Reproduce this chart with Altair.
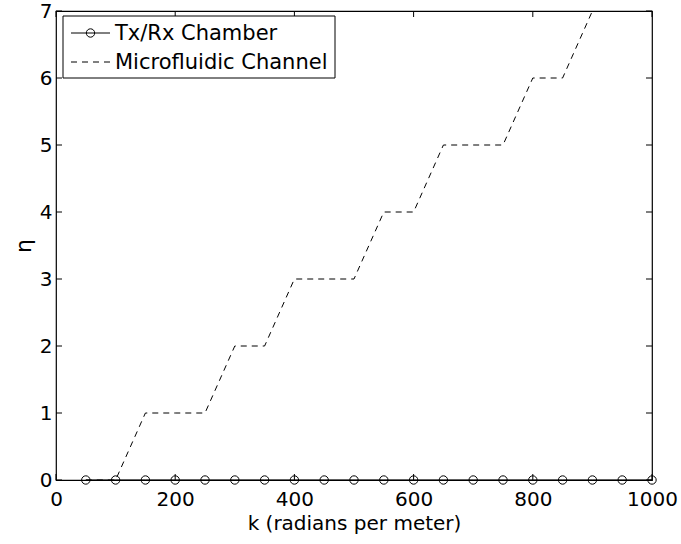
import altair as alt
import pandas as pd

# ---- data ----
k_values = [50, 100, 150, 200, 250, 300, 350, 400, 450, 500, 550, 600, 650, 700,
            750, 800, 850, 900, 950, 1000]
txrx_eta = [0] * 20
micro_eta = [0, 0, 1, 1, 1, 2, 2, 3, 3, 3, 4, 4, 5, 5, 5, 6, 6, 7, 8, 8]
x_ticks = [0, 200, 400, 600, 800, 1000]
y_ticks = [0, 1, 2, 3, 4, 5, 6, 7]
series_names = ["Tx/Rx Chamber", "Microfluidic Channel"]

W, H = 596, 469
FONT = "DejaVu Sans"

txrx = pd.DataFrame({"k": k_values, "eta": txrx_eta})
micro = pd.DataFrame({"k": k_values, "eta": micro_eta})
xt = pd.DataFrame({"k": x_ticks})
yt = pd.DataFrame({"eta": y_ticks})
one = pd.DataFrame({"a": [0]})

xscale = alt.Scale(domain=[0, 1000], nice=False, zero=False)
yscale = alt.Scale(domain=[0, 7], nice=False, zero=False)

xaxis = alt.Axis(values=x_ticks, format="d", title="k (radians per meter)", labelFontSize=20,
                 titleFontSize=20, labelFont=FONT, titleFont=FONT, labelPadding=9,
                 titlePadding=4, titleFontWeight="normal", ticks=False, domain=False,
                 grid=False, labelColor="black", titleColor="black", labelFlush=False)
yaxis = alt.Axis(values=y_ticks, format="d", title="η", labelFontSize=20, titleFontSize=22,
                 labelFont=FONT, titleFont=FONT, labelPadding=4, titlePadding=4,
                 titleFontWeight="normal", ticks=False, domain=False, grid=False,
                 labelColor="black", titleColor="black", labelFlush=False)

micro_line = alt.Chart(micro).mark_line(color="black", strokeWidth=1, strokeDash=[6, 5],
                                        clip=True).encode(
    x=alt.X("k:Q", scale=xscale, axis=xaxis),
    y=alt.Y("eta:Q", scale=yscale, axis=yaxis),
)
txrx_line = alt.Chart(txrx).mark_line(color="black", strokeWidth=1).encode(
    x=alt.X("k:Q", scale=xscale), y=alt.Y("eta:Q", scale=yscale))
txrx_pts = alt.Chart(txrx).mark_point(shape="circle", filled=False, color="black",
                                      size=70, strokeWidth=1, opacity=1).encode(
    x=alt.X("k:Q", scale=xscale), y=alt.Y("eta:Q", scale=yscale))

TL = 6
xt_bot = alt.Chart(xt).mark_rule(color="black", strokeWidth=1).encode(
    x=alt.X("k:Q", scale=xscale), y=alt.value(H), y2=alt.value(H - TL))
xt_top = alt.Chart(xt).mark_rule(color="black", strokeWidth=1).encode(
    x=alt.X("k:Q", scale=xscale), y=alt.value(0), y2=alt.value(TL))
yt_left = alt.Chart(yt).mark_rule(color="black", strokeWidth=1).encode(
    y=alt.Y("eta:Q", scale=yscale), x=alt.value(0), x2=alt.value(TL))
yt_right = alt.Chart(yt).mark_rule(color="black", strokeWidth=1).encode(
    y=alt.Y("eta:Q", scale=yscale), x=alt.value(W), x2=alt.value(W - TL))

# ---- legend ----
leg_box = alt.Chart(one).mark_rect(fill="white", stroke="black", strokeWidth=1).encode(
    x=alt.value(7), x2=alt.value(279), y=alt.value(5), y2=alt.value(67))
leg_l1 = alt.Chart(one).mark_rule(color="black", strokeWidth=1).encode(
    x=alt.value(15), x2=alt.value(54), y=alt.value(22))
leg_p1 = alt.Chart(one).mark_point(shape="circle", filled=False, color="black", size=70,
                                   strokeWidth=1, opacity=1).encode(
    x=alt.value(34.5), y=alt.value(22))
leg_l2 = alt.Chart(one).mark_rule(color="black", strokeWidth=1, strokeDash=[6, 5]).encode(
    x=alt.value(15), x2=alt.value(54), y=alt.value(51))
leg_t1 = alt.Chart(one).mark_text(align="left", baseline="middle", font=FONT, fontSize=21,
                                  color="black").encode(
    x=alt.value(59), y=alt.value(23), text=alt.value(series_names[0]))
leg_t2 = alt.Chart(one).mark_text(align="left", baseline="middle", font=FONT, fontSize=21,
                                  color="black").encode(
    x=alt.value(59), y=alt.value(52), text=alt.value(series_names[1]))

chart = alt.layer(
    micro_line, txrx_line, txrx_pts, xt_bot, xt_top, yt_left, yt_right,
    leg_box, leg_l1, leg_p1, leg_l2, leg_t1, leg_t2
).properties(
    width=W, height=H,
    autosize=alt.AutoSizeParams(type="none"),
    padding={"left": 56, "top": 11, "right": 29, "bottom": 64},
    background="white",
).configure_view(stroke="black", strokeWidth=1.2)

chart.save("out.html", embed_options={"renderer": "svg", "actions": False})
